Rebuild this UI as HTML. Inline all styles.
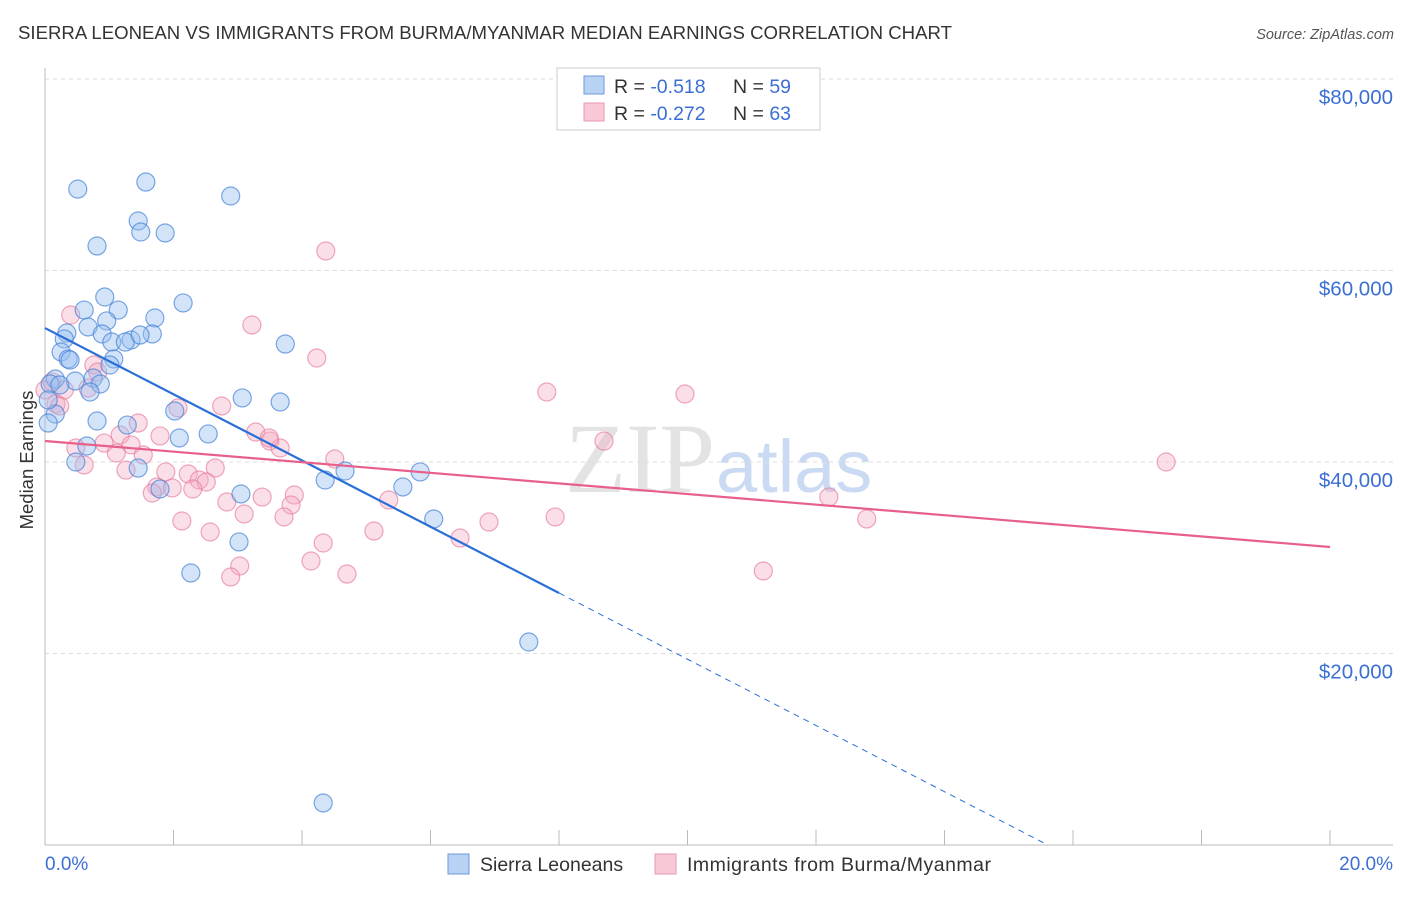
<!DOCTYPE html>
<html><head><meta charset="utf-8"><style>
body{margin:0;background:#fff;font-family:"Liberation Sans",sans-serif;}
</style></head><body>
<svg width="1406" height="892" viewBox="0 0 1406 892" xmlns="http://www.w3.org/2000/svg" font-family="Liberation Sans, sans-serif">
<text x="18" y="39" font-size="18.6" fill="#333">SIERRA LEONEAN VS IMMIGRANTS FROM BURMA/MYANMAR MEDIAN EARNINGS CORRELATION CHART</text>
<text x="1394" y="39" font-size="14.5" fill="#555" font-style="italic" text-anchor="end">Source: ZipAtlas.com</text>
<text x="715" y="492" font-size="100" fill="#e3e3e3" font-family="Liberation Serif, serif" text-anchor="end">ZIP</text>
<text x="716" y="492" font-size="74" fill="#c9daf2">atlas</text>
<g id="grid"></g>
<line x1="45" y1="68" x2="45" y2="845" stroke="#bbb"/>
<line x1="45" y1="845" x2="1393" y2="845" stroke="#bbb"/>
<g id="xticks"></g>
<text x="33" y="460" font-size="18.5" fill="#333" text-anchor="middle" transform="rotate(-90 33 460)">Median Earnings</text>
<text x="45" y="870" font-size="19" fill="#3b6fd4">0.0%</text>
<text x="1393" y="870" font-size="19" fill="#3b6fd4" text-anchor="end">20.0%</text>
<g id="pts"></g>
<g id="lines"></g>
<g>
<rect x="557" y="68" width="263" height="62" fill="#fff" stroke="#ccc"/>
<rect x="584" y="76" width="20" height="18" fill="#b8d2f3" stroke="#6f9ad8"/>
<rect x="584" y="103" width="20" height="18" fill="#f8c8d6" stroke="#e89ab0"/>
<text x="614" y="93" font-size="19.5" fill="#333">R = <tspan fill="#3b6fd4">-0.518</tspan><tspan x="733">N = </tspan><tspan fill="#3b6fd4">59</tspan></text>
<text x="614" y="120" font-size="19.5" fill="#333">R = <tspan fill="#3b6fd4">-0.272</tspan><tspan x="733">N = </tspan><tspan fill="#3b6fd4">63</tspan></text>
</g>
<g>
<rect x="448" y="854" width="21" height="20" fill="#b8d2f3" stroke="#6f9ad8"/>
<text x="480" y="871" font-size="19.5" fill="#333">Sierra Leoneans</text>
<rect x="655" y="854" width="21" height="20" fill="#f8c8d6" stroke="#e89ab0"/>
<text x="687" y="871" font-size="19.5" fill="#333" textLength="304">Immigrants from Burma/Myanmar</text>
</g>
</svg>
<script>
const yTicks=[20000,40000,60000,80000];
const yTickLabels=["$20,000","$40,000","$60,000","$80,000"];
const xTicks=[0,2,4,6,8,10,12,14,16,18,20];
const blueX=[0.51,1.57,2.89,1.45,1.49,1.87,0.81,0.93,0.61,1.14,2.15,1.71,0.96,0.67,0.34,0.89,1.67,0.30,1.34,1.04,1.25,3.74,0.25,0.36,1.07,0.39,0.16,0.75,0.08,0.47,0.86,0.70,3.07,3.66,2.02,0.16,0.81,1.28,0.05,2.09,2.54,0.65,0.48,1.45,1.79,4.67,5.84,4.36,3.05,5.57,6.05,3.02,2.27,7.53,4.33,0.05,0.23,1.01,1.48];
const blueY=[68500,69240,67780,65170,64020,63920,62560,57230,55870,55870,56610,55040,54730,54100,53470,53370,53370,52850,52740,52530,52530,52320,51490,50760,50760,50650,48670,48770,48150,48460,48150,47310,46690,46270,45330,45010,44280,43860,44070,42510,42930,41670,40000,39370,37180,39060,38960,38120,36660,37390,34050,31650,28410,21200,4390,46480,48040,50130,53260];
const pinkX=[0.40,3.22,4.37,4.23,0.76,0.82,0.67,0.30,0.17,0.23,0.11,1.17,1.45,2.07,2.75,7.81,9.96,0.92,1.34,1.11,1.53,1.79,3.28,3.50,3.66,3.49,4.51,0.61,1.26,1.88,2.23,2.65,0.48,1.74,1.98,1.67,2.40,2.51,2.30,2.83,3.10,3.38,3.88,3.83,3.72,2.13,2.57,4.33,5.12,5.35,6.46,6.91,7.94,8.70,12.20,12.79,17.45,3.03,2.89,4.14,4.70,11.18,0.0];
const pinkY=[55350,54310,62040,50860,50130,49400,47730,47520,46060,45850,48360,42820,44070,45640,45850,47310,47100,41980,41780,40940,40730,42720,43130,42190,41460,42510,40310,39690,39160,38960,38750,39370,41460,37390,37290,36760,38120,37910,37180,35820,34570,36340,36550,35510,34260,33840,32690,31540,32790,36030,32060,33730,34260,42190,36340,34050,40000,29140,27990,29660,28300,28620,47520];
const blueTrend=[53990,26320]; // at x=0 and x=8
const pinkTrend=[42190,31120]; // at x=0 and x=20

const NS="http://www.w3.org/2000/svg";
const sx=v=>45+v/20*1285;
const sy=v=>845-v/20000*191.5;
function mk(tag,attrs,parent){const e=document.createElementNS(NS,tag);for(const k in attrs)e.setAttribute(k,attrs[k]);parent.appendChild(e);return e;}
const grid=document.getElementById('grid');
yTicks.forEach((t,i)=>{
  const l=mk('line',{x1:45,x2:1393,y1:sy(t),y2:sy(t),stroke:'#ddd','stroke-dasharray':'4 4'},grid);
  
  
  const tx=mk('text',{x:1393,y:sy(t)+25,'font-size':20.5,fill:'#3b6fd4','text-anchor':'end'},grid);
  tx.textContent=yTickLabels[i];
  
  
});
const xt=document.getElementById('xticks');
xTicks.forEach(t=>{
  const l=mk('line',{x1:sx(t),x2:sx(t),y1:830,y2:845,stroke:'#bbb'},xt);
  
  
});
const pts=document.getElementById('pts');
pinkX.forEach((x,i)=>{
  const c=mk('circle',{cx:sx(x),cy:sy(pinkY[i]),r:9,fill:'rgba(245,170,195,0.38)',stroke:'rgba(230,120,155,0.65)','stroke-width':1.2},pts);
  
  
});
blueX.forEach((x,i)=>{
  const c=mk('circle',{cx:sx(x),cy:sy(blueY[i]),r:9,fill:'rgba(150,190,240,0.42)',stroke:'rgba(70,130,215,0.7)','stroke-width':1.2},pts);
  
  
});
const lines=document.getElementById('lines');
const slope=(blueTrend[1]-blueTrend[0])/8;
const xz=-blueTrend[0]/slope;
const b1=mk('line',{x1:sx(0),y1:sy(blueTrend[0]),x2:sx(8),y2:sy(blueTrend[1]),stroke:'#2a6fd6','stroke-width':2.2},lines);


const b2=mk('line',{x1:sx(8),y1:sy(blueTrend[1]),x2:sx(xz),y2:sy(0),stroke:'#2a6fd6','stroke-width':1,'stroke-dasharray':'6 5'},lines);


const p1=mk('line',{x1:sx(0),y1:sy(pinkTrend[0]),x2:sx(20),y2:sy(pinkTrend[1]),stroke:'#e8608a','stroke-width':2.2},lines);


</script>
</body></html>
